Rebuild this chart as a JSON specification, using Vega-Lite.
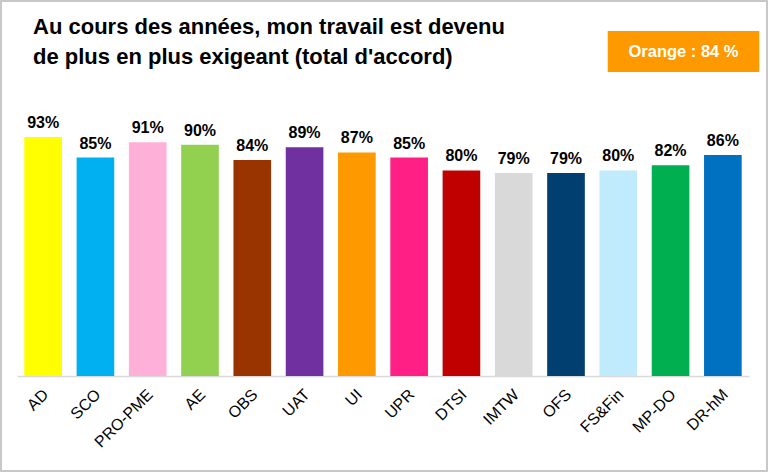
{
  "$schema": "https://vega.github.io/schema/vega-lite/v6.json",
  "width": 732,
  "height": 257,
  "autosize": {"type": "none"},
  "padding": {"left": 17, "top": 119, "right": 19, "bottom": 96},
  "background": "white",
  "config": {"view": {"stroke": null}, "font": "Liberation Sans"},
  "data": {
    "values": [
      {"entite": "AD", "accord": 93, "couleur": "#FFFF00"},
      {"entite": "SCO", "accord": 85, "couleur": "#00B0F0"},
      {"entite": "PRO-PME", "accord": 91, "couleur": "#FFB0D9"},
      {"entite": "AE", "accord": 90, "couleur": "#92D050"},
      {"entite": "OBS", "accord": 84, "couleur": "#993300"},
      {"entite": "UAT", "accord": 89, "couleur": "#7030A0"},
      {"entite": "UI", "accord": 87, "couleur": "#FF9900"},
      {"entite": "UPR", "accord": 85, "couleur": "#FF1F85"},
      {"entite": "DTSI", "accord": 80, "couleur": "#C00000"},
      {"entite": "IMTW", "accord": 79, "couleur": "#D9D9D9"},
      {"entite": "OFS", "accord": 79, "couleur": "#003F70"},
      {"entite": "FS&Fin", "accord": 80, "couleur": "#C0EBFC"},
      {"entite": "MP-DO", "accord": 82, "couleur": "#00B050"},
      {"entite": "DR-hM", "accord": 86, "couleur": "#0070C0"}
    ]
  },
  "layer": [
    {
      "encoding": {
        "x": {
          "field": "entite",
          "type": "nominal",
          "sort": null,
          "scale": {"paddingInner": 0.28, "paddingOuter": 0.14},
          "axis": {
            "title": null,
            "labelAngle": -45,
            "labelFontSize": 16,
            "labelColor": "#000000",
            "labelPadding": 10,
            "labelOffset": -3,
            "ticks": false,
            "domainColor": "#D9D9D9",
            "domainWidth": 1.5
          }
        },
        "y": {
          "field": "accord",
          "type": "quantitative",
          "scale": {"domain": [0, 100], "nice": false},
          "axis": null
        }
      },
      "layer": [
        {
          "mark": {"type": "bar"},
          "encoding": {
            "color": {"field": "couleur", "type": "nominal", "scale": null, "legend": null}
          }
        },
        {
          "transform": [{"calculate": "datum.accord + '%'", "as": "etiquette"}],
          "mark": {"type": "text", "baseline": "alphabetic", "dy": -9, "fontSize": 16, "fontWeight": "bold", "color": "#000000"},
          "encoding": {
            "text": {"field": "etiquette", "type": "nominal"}
          }
        }
      ]
    },
    {
      "data": {
        "values": [
          {"role": "cadre", "x0": -0.02186, "x1": 1.02459, "y0": 145.9, "y1": -36.96, "xm": 0, "ym": 0, "texte": ""},
          {"role": "encart", "x0": 0.807, "x1": 1.014, "y0": 134.2, "y1": 118.3, "xm": 0.9105, "ym": 126.2, "texte": "Orange : 84 %"},
          {"role": "titre", "x0": 0, "x1": 0, "y0": 0, "y1": 0, "xm": 0.0219, "ym": 133.1, "texte": "Au cours des années, mon travail est devenu\nde plus en plus exigeant (total d'accord)"}
        ]
      },
      "layer": [
        {
          "transform": [{"filter": "datum.role == 'cadre'"}],
          "mark": {"type": "rect", "fill": null, "stroke": "#C8C8C8", "strokeWidth": 2},
          "encoding": {
            "x": {"field": "x0", "type": "quantitative", "scale": {"domain": [0, 1], "nice": false, "zero": false}, "axis": null},
            "x2": {"field": "x1"},
            "y": {"field": "y0", "type": "quantitative"},
            "y2": {"field": "y1"}
          }
        },
        {
          "transform": [{"filter": "datum.role == 'encart'"}],
          "mark": {"type": "rect", "color": "#FF9900"},
          "encoding": {
            "x": {"field": "x0", "type": "quantitative", "scale": {"domain": [0, 1], "nice": false, "zero": false}, "axis": null},
            "x2": {"field": "x1"},
            "y": {"field": "y0", "type": "quantitative"},
            "y2": {"field": "y1"}
          }
        },
        {
          "transform": [{"filter": "datum.role == 'encart'"}],
          "mark": {"type": "text", "color": "white", "fontSize": 16.5, "fontWeight": "bold", "baseline": "middle", "align": "center"},
          "encoding": {
            "x": {"field": "xm", "type": "quantitative", "scale": {"domain": [0, 1], "nice": false, "zero": false}, "axis": null},
            "y": {"field": "ym", "type": "quantitative"},
            "text": {"field": "texte"}
          }
        },
        {
          "transform": [{"filter": "datum.role == 'titre'"}],
          "mark": {"type": "text", "color": "#000000", "fontSize": 22, "fontWeight": "bold", "baseline": "alphabetic", "align": "left", "lineBreak": "\n", "lineHeight": 30},
          "encoding": {
            "x": {"field": "xm", "type": "quantitative", "scale": {"domain": [0, 1], "nice": false, "zero": false}, "axis": null},
            "y": {"field": "ym", "type": "quantitative"},
            "text": {"field": "texte"}
          }
        }
      ]
    }
  ],
  "resolve": {"scale": {"x": "independent"}}
}
